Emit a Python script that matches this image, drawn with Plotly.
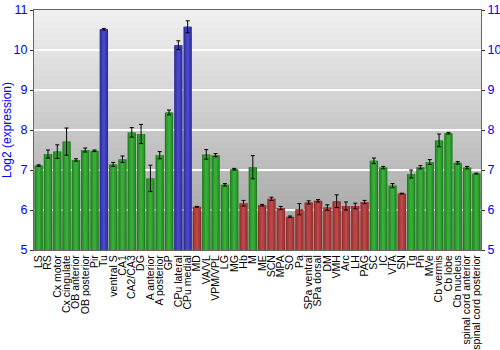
import plotly.graph_objects as go

categories = ["LS", "RS", "Cx motor", "Cx cingulate", "OB anterior", "OB posterior", "Pir", "Tu",
              "ventral S", "CA1", "CA2/CA3", "DG", "A anterior", "A posterior", "GP", "CPu lateral",
              "CPu medial", "MD", "VA/VL", "VPM/VPL", "LG", "MG", "Hb", "M", "ME", "SCN", "MPA", "SO",
              "Pa", "SPa ventral", "SPa dorsal", "DM", "VMH", "Arc", "LH", "PAG", "SC", "IC", "VTA", "SN",
              "Tg", "Pn", "MVe", "Cb vermis", "Cb lobe", "Cb nucleus", "spinal cord anterior",
              "spinal cord posterior"]
values = [7.11, 7.40, 7.46, 7.71, 7.25, 7.50, 7.48, 10.52,
          7.14, 7.27, 7.94, 7.90, 6.79, 7.37, 8.44, 10.12,
          10.58, 6.08, 7.39, 7.37, 6.63, 7.02, 6.17, 7.07, 6.12, 6.28, 6.05, 5.83,
          6.02, 6.19, 6.23, 6.06, 6.22, 6.10, 6.10, 6.20, 7.23, 7.06, 6.61, 6.41,
          6.90, 7.07, 7.20, 7.74, 7.92, 7.18, 7.06, 6.91]
errors = [0.02, 0.10, 0.17, 0.34, 0.03, 0.05, 0.02, 0.02,
          0.05, 0.08, 0.12, 0.24, 0.33, 0.09, 0.06, 0.11,
          0.15, 0.01, 0.12, 0.04, 0.03, 0.02, 0.07, 0.29, 0.02, 0.04, 0.04, 0.02,
          0.14, 0.04, 0.03, 0.07, 0.16, 0.10, 0.07, 0.04, 0.07, 0.03, 0.05, 0.01,
          0.10, 0.04, 0.06, 0.16, 0.02, 0.03, 0.03, 0.01]
groups = ["g"] * 7 + ["b"] + ["g"] * 7 + ["b", "b", "r", "g", "g", "g", "g", "r", "g"] + ["r"] * 12 + \
         ["g", "g", "g", "r"] + ["g"] * 8

dark = {"g": "#1f7d1f", "b": "#2b2b9a", "r": "#8f2e2e"}
mid = {"g": "#2c9a2c", "b": "#3a3ab4", "r": "#aa3a3a"}
light = {"g": "#3aac3a", "b": "#4848c6", "r": "#bb4848"}

fig = go.Figure()
fig.add_trace(go.Bar(x=categories, y=values, base=0, width=0.9,
                     marker=dict(color=[dark[g] for g in groups], line=dict(width=0)),
                     showlegend=False, hoverinfo="skip"))
fig.add_trace(go.Bar(x=categories, y=values, base=0, width=0.65,
                     marker=dict(color=[mid[g] for g in groups], line=dict(width=0)),
                     showlegend=False, hoverinfo="skip"))
fig.add_trace(go.Bar(x=categories, y=values, base=0, width=0.3,
                     marker=dict(color=[light[g] for g in groups], line=dict(width=0)),
                     error_y=dict(type="data", array=errors, color="black", thickness=1, width=2),
                     showlegend=False))
fig.add_trace(go.Scatter(x=[categories[0]], y=[5], yaxis="y2", mode="markers",
                         marker=dict(opacity=0), showlegend=False, hoverinfo="skip"))

# background vertical gradient
shapes = []
n = 40
for i in range(n):
    t = i / n
    c = int(160 + (243 - 160) * t)
    shapes.append(dict(type="rect", xref="x domain", yref="y domain", x0=0, x1=1,
                       y0=t, y1=t + 1.0 / n + 0.002, fillcolor=f"rgb({c},{c},{c})",
                       line=dict(width=0), layer="below"))

fig.update_layout(
    width=500, height=350, margin=dict(l=34, r=19, t=10, b=100),
    barmode="overlay", bargap=0.1,
    paper_bgcolor="white", plot_bgcolor="rgba(0,0,0,0)",
    shapes=shapes,
    font=dict(family="Liberation Sans, Arial", color="black"),
    xaxis=dict(tickangle=-90, tickfont=dict(size=10.5, color="black"), showgrid=False,
               tickmode="array", tickvals=categories, ticktext=categories, automargin=False,
               showline=True, linecolor="#666", mirror=True, ticks="", range=[-0.5, 47.5]),
    yaxis=dict(range=[5, 11], tickvals=[5, 6, 7, 8, 9, 10, 11], tickfont=dict(size=12.5, color="blue"),
               showgrid=True, gridcolor="white", gridwidth=1.5, zeroline=False, automargin=False,
               showline=True, linecolor="#666", ticks="outside", ticklen=3, tickcolor="#333",
               title=dict(text="Log2 (expression)", font=dict(size=12, color="blue"), standoff=4)),
    yaxis2=dict(range=[5, 11], tickvals=[5, 6, 7, 8, 9, 10, 11], overlaying="y", side="right",
                tickfont=dict(size=12.5, color="blue"), showgrid=False, zeroline=False, automargin=False,
                showline=True, linecolor="#666", ticks="outside", ticklen=3, tickcolor="#333"),
)
fig.write_html("out.html")
